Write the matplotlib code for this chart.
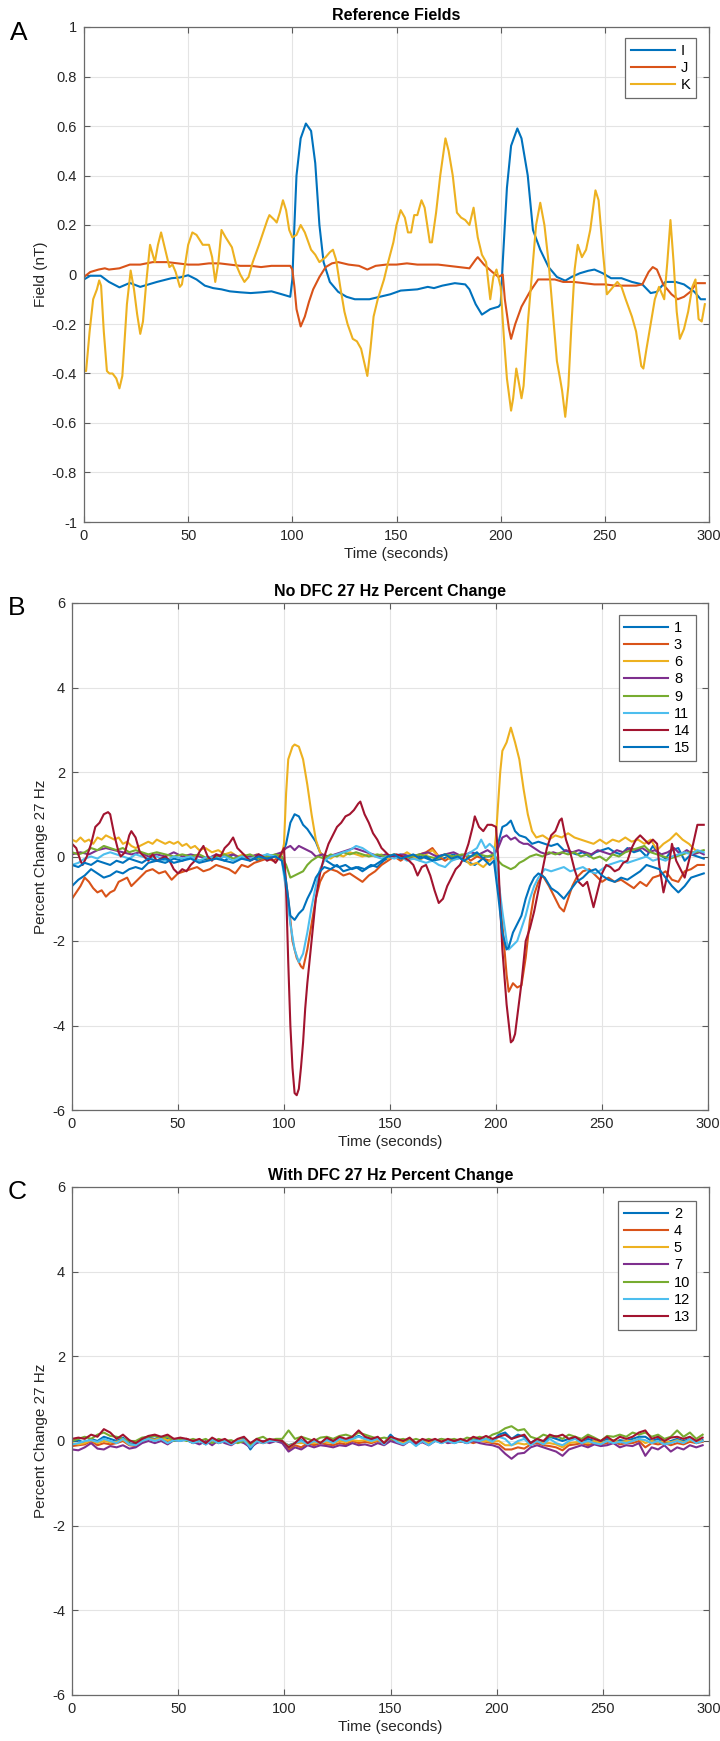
import matplotlib
matplotlib.use('Agg')
import matplotlib.pyplot as plt

plt.rcParams['font.family'] = ['Liberation Sans', 'DejaVu Sans']
plt.rcParams['axes.unicode_minus'] = False

# ---------------- Panel A: Reference Fields ----------------
A_I = [(0,-0.02),(3,-0.005),(8,-0.005),(12,-0.03),(17,-0.052),(22,-0.034),(27,-0.05),(31,-0.04),(35,-0.03),(42,-0.015),(46,-0.012),(50,-0.003),(54,-0.02),(58,-0.045),(62,-0.055),(66,-0.06),(70,-0.068),(75,-0.072),(80,-0.075),(85,-0.072),(90,-0.068),(95,-0.08),(99,-0.09),(100,-0.02),(101,0.2),(102,0.4),(104,0.55),(106.5,0.61),(109,0.58),(111,0.45),(113,0.2),(115,0.05),(118,-0.03),(122,-0.07),(126,-0.09),(130,-0.1),(137,-0.1),(142,-0.09),(147,-0.08),(152,-0.065),(160,-0.06),(165,-0.05),(168,-0.055),(172,-0.045),(178,-0.035),(183,-0.04),(185,-0.06),(188,-0.12),(191,-0.162),(195,-0.14),(199,-0.13),(200,-0.12),(201,0.05),(203,0.35),(205,0.52),(208,0.59),(210,0.55),(213,0.4),(215.5,0.18),(219,0.1),(223,0.03),(227,-0.01),(231,-0.025),(234,-0.01),(238,0.005),(242,0.015),(245,0.02),(249,0.005),(253,-0.015),(258,-0.015),(263,-0.03),(268,-0.04),(272,-0.075),(275,-0.07),(279,-0.03),(284,-0.03),(288,-0.04),(293,-0.07),(296,-0.1),(298,-0.1)]

A_J = [(0,-0.01),(3,0.01),(7,0.02),(10,0.025),(12,0.02),(17,0.025),(22,0.04),(27,0.04),(33,0.05),(40,0.05),(45,0.045),(50,0.04),(55,0.04),(60,0.045),(65,0.045),(70,0.04),(75,0.035),(80,0.035),(85,0.03),(90,0.035),(95,0.035),(99,0.035),(100,0.02),(101,-0.05),(102,-0.14),(104,-0.21),(106,-0.17),(108,-0.11),(110,-0.06),(113,-0.01),(116,0.03),(119,0.045),(122,0.05),(127,0.04),(132,0.035),(136,0.02),(140,0.035),(145,0.04),(150,0.04),(155,0.045),(160,0.04),(165,0.04),(170,0.04),(175,0.035),(180,0.03),(185,0.025),(188,0.06),(189,0.07),(192,0.04),(196,0.01),(199,-0.01),(201,0.0),(202,-0.1),(204,-0.22),(205,-0.26),(207,-0.2),(210,-0.13),(214,-0.07),(218,-0.02),(222,-0.02),(226,-0.02),(230,-0.03),(235,-0.03),(240,-0.035),(245,-0.04),(250,-0.04),(255,-0.045),(260,-0.045),(265,-0.045),(268,-0.04),(271,0.01),(273,0.03),(275,0.02),(278,-0.04),(282,-0.08),(285,-0.1),(288,-0.09),(291,-0.07),(294,-0.035),(298,-0.035)]

A_K = [(0,-0.39),(1,-0.39),(2.7,-0.23),(4.4,-0.1),(6.2,-0.06),(7.3,-0.024),(8.2,-0.045),(9.5,-0.23),(11,-0.39),(12.2,-0.40),(13.7,-0.40),(15.5,-0.42),(17,-0.46),(18.4,-0.41),(20.6,-0.12),(22.4,0.016),(24,-0.06),(25.5,-0.16),(27,-0.24),(28.3,-0.19),(29.9,-0.03),(31.7,0.12),(33,0.08),(34,0.05),(35.5,0.12),(37,0.17),(39,0.1),(41,0.03),(42.5,0.04),(44,0.01),(46,-0.05),(47,-0.04),(50,0.12),(52,0.17),(54,0.16),(57,0.12),(60,0.12),(61.5,0.07),(63,-0.03),(64.5,0.05),(66,0.18),(68,0.15),(69.5,0.13),(71,0.11),(73,0.04),(75,0.0),(77,-0.03),(79,-0.01),(81,0.05),(84,0.12),(86,0.17),(88,0.22),(89,0.24),(91.5,0.22),(92.5,0.21),(94,0.25),(95.5,0.3),(97,0.26),(98.5,0.18),(100,0.15),(102,0.16),(104,0.2),(106,0.17),(109,0.1),(111,0.08),(113,0.05),(116,0.07),(118,0.09),(119.5,0.1),(121,0.06),(123,-0.05),(125,-0.15),(126.5,-0.2),(129,-0.26),(131,-0.27),(133,-0.3),(136,-0.41),(137.5,-0.3),(139,-0.17),(141,-0.1),(144,-0.02),(146,0.05),(148.5,0.13),(150,0.2),(152,0.26),(154,0.23),(155.5,0.17),(157,0.17),(158.5,0.24),(160,0.24),(162,0.3),(163.5,0.27),(166,0.13),(167,0.13),(169,0.25),(171,0.4),(173.5,0.55),(175,0.5),(177,0.4),(179,0.25),(181,0.23),(183,0.22),(185,0.2),(187,0.27),(189,0.15),(191,0.08),(193,0.05),(195,-0.1),(196.5,-0.01),(198,0.02),(200,-0.05),(201.5,-0.25),(203,-0.42),(205,-0.55),(206,-0.5),(207.5,-0.38),(209,-0.45),(210,-0.5),(211,-0.45),(213,-0.2),(215,0.0),(217,0.2),(219,0.29),(221,0.2),(223,0.05),(225,-0.15),(227,-0.35),(228.5,-0.42),(229.5,-0.47),(231,-0.575),(232.5,-0.45),(234,-0.2),(235.5,0.02),(237,0.12),(239,0.07),(241,0.1),(243,0.18),(245.5,0.34),(247,0.3),(249,0.1),(251,-0.08),(253,-0.06),(256,-0.03),(258,-0.05),(260,-0.1),(263,-0.17),(265,-0.23),(267.5,-0.37),(268.5,-0.38),(270,-0.3),(272,-0.2),(274,-0.1),(276,-0.05),(277,-0.07),(278.5,-0.1),(280,0.05),(281.5,0.22),(283,0.05),(284.5,-0.15),(286,-0.26),(288,-0.22),(290,-0.15),(292,-0.05),(293.5,-0.02),(295,-0.18),(296.5,-0.19),(298,-0.12)]

A_names = ['I', 'J', 'K']

# ---------------- Panel B: No DFC ----------------
B1 = [(0,-0.7),(3,-0.55),(6,-0.45),(9,-0.3),(12,-0.4),(15,-0.5),(18,-0.45),(21,-0.35),(24,-0.4),(27,-0.3),(30,-0.25),(33,-0.3),(36,-0.15),(40,-0.1),(44,-0.15),(48,-0.05),(52,-0.1),(56,0.0),(60,-0.1),(64,-0.05),(68,0.0),(72,-0.1),(76,0.05),(80,-0.05),(84,0.0),(88,-0.1),(92,0.05),(96,0.0),(99,0.05),(101,0.3),(103,0.8),(105,1.0),(107,0.95),(109,0.75),(111,0.65),(113,0.5),(115,0.35),(117,0.1),(120,-0.1),(123,-0.2),(126,-0.25),(129,-0.2),(132,-0.3),(135,-0.25),(138,-0.3),(141,-0.2),(144,-0.25),(147,-0.1),(150,0.0),(155,0.05),(160,-0.05),(165,0.0),(170,-0.1),(175,-0.05),(180,0.05),(185,-0.1),(190,-0.2),(195,0.0),(199,0.0),(201,0.3),(203,0.7),(205,0.75),(207,0.85),(209,0.6),(211,0.5),(214,0.45),(217,0.3),(220,0.35),(223,0.3),(226,0.25),(229,0.3),(232,0.15),(235,0.1),(238,0.05),(241,0.1),(244,0.0),(247,0.1),(250,0.15),(253,0.2),(256,0.1),(259,0.05),(262,0.2),(265,0.1),(268,0.15),(271,0.0),(274,0.25),(277,0.05),(280,-0.05),(283,0.15),(286,0.2),(289,-0.1),(292,0.05),(295,0.0),(298,-0.05)]

B3 = [(0,-1.0),(2,-0.85),(4,-0.7),(6,-0.5),(8,-0.6),(10,-0.75),(12,-0.85),(14,-0.8),(16,-0.95),(18,-0.85),(20,-0.8),(22,-0.6),(24,-0.55),(26,-0.5),(28,-0.7),(30,-0.6),(32,-0.5),(35,-0.35),(38,-0.3),(41,-0.4),(44,-0.35),(47,-0.55),(50,-0.4),(53,-0.35),(56,-0.3),(59,-0.25),(62,-0.35),(65,-0.3),(68,-0.2),(71,-0.25),(74,-0.3),(77,-0.4),(80,-0.2),(83,-0.25),(86,-0.15),(89,-0.1),(92,-0.05),(95,-0.1),(98,0.0),(100,-0.2),(102,-1.0),(104,-2.0),(106,-2.4),(108,-2.6),(109,-2.65),(111,-2.2),(113,-1.6),(115,-1.0),(117,-0.6),(119,-0.4),(122,-0.3),(125,-0.35),(128,-0.45),(131,-0.4),(134,-0.5),(137,-0.6),(140,-0.45),(143,-0.35),(146,-0.2),(149,-0.1),(152,0.0),(155,-0.1),(158,0.0),(161,-0.05),(164,0.05),(167,0.1),(170,0.2),(173,0.0),(176,-0.1),(179,0.0),(182,-0.05),(185,0.05),(188,-0.1),(191,0.0),(194,-0.05),(197,-0.1),(199,0.0),(201,-0.5),(203,-1.6),(205,-2.8),(206,-3.2),(208,-3.0),(210,-3.1),(212,-3.05),(214,-2.4),(216,-1.5),(218,-0.9),(220,-0.6),(222,-0.45),(225,-0.7),(228,-1.0),(230,-1.2),(232,-1.3),(234,-1.0),(236,-0.7),(238,-0.5),(241,-0.35),(244,-0.3),(247,-0.45),(250,-0.6),(253,-0.5),(256,-0.6),(259,-0.55),(262,-0.65),(265,-0.75),(268,-0.6),(271,-0.7),(274,-0.5),(277,-0.45),(280,-0.35),(283,-0.55),(286,-0.6),(289,-0.35),(292,-0.3),(295,-0.2),(298,-0.2)]

B6 = [(0,0.4),(2,0.35),(4,0.45),(6,0.35),(8,0.4),(10,0.3),(12,0.45),(14,0.4),(16,0.5),(18,0.45),(20,0.4),(22,0.45),(24,0.3),(26,0.35),(28,0.25),(30,0.2),(32,0.25),(34,0.3),(36,0.35),(38,0.3),(40,0.4),(42,0.35),(44,0.3),(46,0.35),(48,0.3),(50,0.35),(52,0.25),(54,0.3),(56,0.2),(58,0.25),(60,0.15),(63,0.2),(66,0.1),(69,0.15),(72,0.05),(75,0.1),(78,0.0),(81,0.05),(84,-0.05),(87,0.05),(90,0.0),(93,-0.05),(96,0.0),(99,0.05),(100,0.3),(101,1.5),(102,2.3),(104,2.6),(105,2.65),(107,2.6),(109,2.3),(111,1.7),(113,1.0),(115,0.4),(117,0.1),(119,0.0),(122,-0.05),(125,0.05),(128,0.0),(131,0.1),(134,0.05),(137,0.0),(140,0.05),(143,0.0),(146,0.05),(149,-0.05),(152,0.05),(155,0.0),(158,0.1),(161,0.0),(164,-0.1),(167,0.05),(170,0.15),(173,0.0),(176,0.05),(179,-0.1),(182,0.0),(185,-0.05),(188,-0.2),(191,-0.15),(194,-0.25),(197,-0.1),(199,0.0),(200,0.5),(202,2.0),(203,2.5),(205,2.7),(207,3.05),(209,2.7),(211,2.3),(213,1.6),(215,1.0),(217,0.6),(219,0.45),(222,0.5),(225,0.4),(228,0.5),(231,0.45),(234,0.55),(237,0.45),(240,0.4),(243,0.35),(246,0.3),(249,0.4),(252,0.3),(255,0.4),(258,0.35),(261,0.45),(264,0.35),(267,0.4),(270,0.3),(273,0.4),(276,0.15),(279,0.3),(282,0.4),(285,0.55),(288,0.4),(291,0.3),(294,0.15),(297,0.1)]

B8 = [(0,0.05),(4,0.1),(8,0.05),(12,0.15),(16,0.2),(20,0.15),(24,0.1),(28,0.05),(32,0.1),(36,0.0),(40,0.05),(44,0.0),(48,0.1),(52,0.0),(56,0.05),(60,0.0),(64,-0.05),(68,0.05),(72,0.0),(76,0.05),(80,-0.05),(84,0.0),(88,0.05),(92,-0.05),(96,0.05),(99,0.1),(101,0.2),(103,0.25),(105,0.15),(107,0.25),(109,0.2),(111,0.15),(113,0.1),(115,0.0),(118,0.05),(121,0.0),(124,0.05),(127,0.1),(130,0.15),(133,0.2),(136,0.15),(139,0.1),(142,0.05),(145,0.0),(148,0.05),(152,0.0),(156,0.05),(160,0.0),(164,0.05),(168,0.1),(172,0.0),(176,0.05),(180,0.1),(184,0.0),(188,0.1),(192,0.05),(196,0.15),(199,0.05),(201,0.2),(203,0.45),(205,0.5),(207,0.4),(209,0.45),(211,0.35),(213,0.3),(215,0.3),(218,0.2),(221,0.1),(224,0.05),(227,0.1),(230,0.05),(233,0.15),(236,0.1),(239,0.15),(242,0.1),(245,0.05),(248,0.15),(251,0.1),(254,0.05),(257,0.15),(260,0.1),(263,0.2),(266,0.15),(269,0.2),(272,0.1),(275,0.15),(278,0.05),(281,0.1),(284,0.2),(287,0.05),(290,0.15),(293,0.05),(296,0.1),(298,0.05)]

B9 = [(0,0.1),(3,0.05),(6,0.1),(9,0.2),(12,0.15),(15,0.25),(18,0.2),(21,0.15),(24,0.2),(27,0.1),(30,0.15),(33,0.1),(36,0.05),(40,0.1),(44,0.05),(48,0.0),(52,0.05),(56,0.0),(60,0.05),(64,-0.05),(68,0.0),(72,0.05),(76,-0.05),(80,0.0),(84,0.05),(88,-0.05),(92,0.0),(96,0.05),(99,0.0),(101,-0.2),(103,-0.5),(105,-0.45),(107,-0.4),(109,-0.35),(111,-0.2),(113,-0.1),(116,0.0),(119,-0.05),(122,0.05),(125,0.0),(128,0.1),(131,0.05),(134,0.1),(137,0.05),(140,0.0),(144,0.05),(148,0.0),(152,0.05),(156,-0.05),(160,0.0),(164,0.05),(168,0.0),(172,-0.05),(176,0.05),(180,0.0),(184,0.05),(188,0.0),(192,0.05),(196,0.0),(199,0.05),(201,-0.1),(203,-0.2),(205,-0.25),(207,-0.3),(209,-0.25),(211,-0.15),(213,-0.1),(216,0.0),(219,0.05),(222,0.0),(225,0.1),(228,0.05),(231,0.1),(234,0.05),(237,0.1),(240,0.0),(243,0.05),(246,-0.05),(249,0.0),(252,-0.1),(255,0.05),(258,0.0),(261,0.1),(264,0.15),(267,0.2),(270,0.25),(273,0.1),(276,0.05),(279,0.0),(282,-0.05),(285,0.0),(288,0.05),(291,0.1),(294,0.1),(298,0.15)]

B11 = [(0,-0.2),(3,-0.15),(6,-0.05),(9,0.0),(12,-0.05),(15,0.05),(18,0.1),(21,0.05),(24,0.0),(27,-0.05),(30,0.05),(33,0.0),(36,-0.05),(40,0.0),(44,-0.1),(48,0.0),(52,-0.05),(56,0.0),(60,-0.1),(64,0.0),(68,-0.05),(72,0.0),(76,-0.1),(80,0.0),(84,-0.05),(88,0.0),(92,0.05),(96,0.0),(99,-0.1),(101,-0.8),(103,-1.6),(105,-2.2),(107,-2.5),(109,-2.3),(111,-1.8),(113,-1.2),(115,-0.7),(117,-0.3),(119,-0.1),(122,0.0),(125,0.05),(128,0.1),(131,0.15),(134,0.25),(137,0.2),(140,0.1),(143,0.0),(146,-0.05),(149,0.0),(152,-0.05),(155,0.0),(158,-0.1),(161,-0.05),(164,-0.1),(167,-0.15),(170,-0.1),(173,-0.2),(176,-0.25),(179,-0.1),(182,-0.05),(185,0.0),(188,0.1),(191,0.2),(193,0.4),(195,0.2),(197,0.3),(199,0.2),(201,-0.5),(203,-1.3),(205,-2.0),(206,-2.2),(208,-2.1),(210,-2.0),(212,-1.7),(214,-1.4),(216,-1.0),(218,-0.7),(220,-0.5),(223,-0.3),(226,-0.35),(229,-0.3),(232,-0.25),(235,-0.35),(238,-0.3),(241,-0.25),(244,-0.35),(247,-0.4),(250,-0.3),(253,-0.2),(256,-0.15),(259,-0.1),(262,-0.15),(265,-0.1),(268,-0.05),(271,0.0),(274,-0.1),(277,-0.05),(280,-0.1),(283,0.0),(286,0.05),(289,0.1),(292,0.05),(295,0.15),(298,0.1)]

B14 = [(0,0.3),(2,0.2),(4,-0.1),(5,-0.2),(7,0.0),(9,0.3),(11,0.7),(13,0.8),(15,1.0),(17,1.05),(18,1.0),(20,0.5),(22,0.1),(23,0.0),(25,0.1),(27,0.5),(28,0.6),(30,0.45),(32,0.1),(34,0.0),(36,-0.1),(38,0.05),(40,-0.1),(42,-0.05),(44,0.0),(46,-0.1),(48,-0.3),(50,-0.4),(52,-0.3),(54,-0.35),(56,-0.2),(58,-0.1),(60,0.1),(62,0.25),(64,0.0),(66,-0.1),(68,0.05),(70,0.0),(72,0.2),(74,0.3),(76,0.45),(78,0.2),(80,0.1),(82,0.0),(84,-0.1),(86,-0.05),(88,0.05),(90,0.0),(92,-0.1),(94,-0.05),(96,-0.15),(98,0.0),(100,0.2),(101,-0.8),(102,-2.5),(103,-4.0),(104,-5.0),(105,-5.6),(106,-5.65),(107,-5.5),(108,-5.0),(109,-4.4),(110,-3.6),(111,-3.0),(113,-2.0),(115,-1.0),(117,-0.4),(119,0.0),(121,0.3),(123,0.5),(125,0.7),(127,0.8),(129,0.95),(131,1.0),(133,1.1),(135,1.25),(136,1.3),(138,1.0),(140,0.8),(142,0.55),(144,0.4),(146,0.2),(148,0.1),(150,0.0),(153,0.05),(156,0.0),(159,-0.1),(161,-0.2),(163,-0.45),(165,-0.25),(167,-0.2),(169,-0.45),(171,-0.8),(173,-1.1),(175,-1.0),(177,-0.7),(179,-0.5),(181,-0.3),(183,-0.2),(185,0.0),(187,0.3),(189,0.7),(190,0.95),(192,0.7),(194,0.6),(196,0.75),(198,0.75),(200,0.7),(201,0.0),(202,-1.2),(203,-2.2),(205,-3.5),(207,-4.4),(208,-4.35),(209,-4.2),(210,-3.8),(212,-3.0),(214,-2.0),(216,-1.7),(218,-1.3),(220,-0.8),(222,-0.3),(224,0.2),(226,0.5),(228,0.6),(230,0.85),(231,0.9),(233,0.4),(235,0.1),(237,-0.3),(239,-0.6),(241,-0.7),(243,-0.6),(245,-1.0),(246,-1.2),(248,-0.8),(250,-0.4),(252,-0.2),(254,-0.25),(256,-0.35),(258,-0.3),(260,-0.15),(262,-0.1),(264,0.2),(266,0.4),(268,0.5),(270,0.4),(272,0.3),(274,0.4),(276,0.3),(277,-0.2),(279,-0.85),(281,-0.4),(283,0.3),(285,-0.1),(287,-0.3),(289,-0.5),(291,-0.1),(293,0.3),(295,0.75),(298,0.75)]

B15 = [(0,-0.2),(3,-0.25),(6,-0.15),(9,-0.2),(12,-0.1),(15,-0.15),(18,-0.2),(21,-0.1),(24,-0.15),(27,-0.05),(30,-0.1),(33,-0.15),(36,-0.05),(40,-0.1),(44,-0.05),(48,-0.15),(52,-0.1),(56,-0.05),(60,-0.15),(64,-0.1),(68,-0.05),(72,-0.1),(76,-0.15),(80,-0.05),(84,-0.1),(88,0.0),(92,-0.05),(96,0.0),(99,-0.1),(101,-0.6),(103,-1.4),(105,-1.5),(107,-1.35),(109,-1.25),(111,-1.0),(113,-0.8),(115,-0.5),(117,-0.35),(119,-0.25),(122,-0.3),(125,-0.2),(128,-0.35),(131,-0.3),(134,-0.25),(137,-0.35),(140,-0.25),(143,-0.2),(146,-0.1),(149,0.0),(152,0.05),(155,-0.05),(158,0.0),(161,0.05),(164,-0.05),(167,0.0),(170,-0.1),(173,0.0),(176,0.05),(179,-0.05),(182,0.0),(185,-0.1),(188,0.0),(191,0.1),(194,-0.05),(197,-0.2),(199,-0.1),(201,-0.9),(203,-1.8),(205,-2.2),(206,-2.15),(208,-1.8),(210,-1.6),(212,-1.4),(214,-1.0),(216,-0.7),(218,-0.5),(220,-0.4),(223,-0.5),(226,-0.75),(229,-0.85),(232,-1.0),(235,-0.8),(238,-0.6),(241,-0.5),(244,-0.35),(247,-0.3),(250,-0.45),(253,-0.55),(256,-0.6),(259,-0.5),(262,-0.55),(265,-0.45),(268,-0.35),(271,-0.2),(274,-0.25),(277,-0.3),(280,-0.5),(283,-0.7),(286,-0.85),(289,-0.7),(292,-0.5),(295,-0.45),(298,-0.4)]

B_names = ['1', '3', '6', '8', '9', '11', '14', '15']

# ---------------- Panel C: With DFC ----------------
C_t = [0,3,6,9,12,15,18,21,24,27,30,33,36,39,42,45,48,51,54,57,60,63,66,69,72,75,78,81,84,87,90,93,96,99,102,105,108,111,114,117,120,123,126,129,132,135,138,141,144,147,150,153,156,159,162,165,168,171,174,177,180,183,186,189,192,195,198,201,204,207,210,213,216,219,222,225,228,231,234,237,240,243,246,249,252,255,258,261,264,267,270,273,276,279,282,285,288,291,294,297]

C2 = [0.0,0.02,-0.05,0.05,0.0,0.1,0.05,0.0,0.08,-0.05,
      -0.08,0.02,0.08,0.05,0.1,0.05,0.0,0.05,0.02,-0.05,
      0.0,-0.08,0.05,-0.05,0.0,-0.08,0.02,0.05,-0.2,0.0,
      -0.05,0.02,0.0,-0.02,-0.1,-0.05,0.02,-0.08,0.0,-0.05,
      0.05,-0.02,0.05,0.0,0.05,0.12,0.05,0.02,0.05,-0.05,
      0.15,0.0,-0.05,0.05,-0.1,0.0,-0.08,0.02,-0.05,0.02,
      -0.05,0.0,-0.05,0.05,0.0,0.05,0.0,0.15,0.2,0.05,
      0.15,0.1,-0.05,0.05,-0.05,0.1,0.05,0.0,0.05,0.08,
      -0.05,0.05,0.0,-0.05,0.05,-0.05,0.02,0.0,0.05,0.1,
      0.1,0.0,0.05,-0.05,0.0,0.05,0.0,0.05,-0.05,0.02]
C4 = [-0.12,-0.1,-0.08,0.0,-0.1,-0.05,-0.08,-0.05,0.0,-0.1,
      -0.12,-0.02,0.05,0.02,0.05,0.0,0.05,0.02,0.05,-0.05,
      0.0,-0.05,0.02,-0.05,0.0,-0.05,0.02,0.0,-0.1,0.0,
      -0.05,0.0,0.02,0.0,-0.2,-0.1,-0.15,-0.05,-0.1,-0.05,
      -0.08,-0.1,-0.05,-0.08,0.0,-0.05,-0.02,-0.05,0.0,-0.05,
      0.05,-0.02,-0.05,0.0,-0.05,0.0,-0.05,0.0,0.02,-0.05,
      0.0,-0.02,0.0,-0.05,0.0,-0.02,-0.05,-0.08,-0.2,-0.2,
      -0.15,-0.18,-0.08,-0.05,-0.1,-0.12,-0.15,-0.22,-0.1,-0.08,
      -0.05,-0.1,-0.05,-0.08,-0.05,0.0,-0.08,-0.05,-0.05,0.0,
      -0.15,-0.05,-0.08,-0.05,-0.1,-0.05,-0.08,-0.02,-0.05,-0.02]
C5 = [-0.05,-0.08,-0.05,0.02,-0.05,0.0,-0.03,-0.02,0.03,-0.08,
      -0.1,0.0,0.05,0.03,0.08,0.02,0.05,0.03,0.05,-0.03,
      0.0,-0.05,0.03,-0.03,0.0,-0.05,0.02,0.03,-0.12,0.02,
      -0.03,0.0,0.02,0.0,-0.12,-0.05,-0.05,-0.05,-0.05,-0.02,
      -0.03,-0.05,0.0,-0.03,0.02,0.0,0.02,-0.02,0.02,-0.03,
      0.08,0.0,-0.03,0.02,-0.05,0.0,-0.05,0.0,0.0,-0.02,
      0.0,0.0,0.0,0.0,0.0,0.0,-0.02,0.0,-0.1,-0.1,
      -0.05,-0.08,-0.05,0.0,-0.05,-0.05,-0.08,-0.15,-0.05,-0.03,
      -0.02,-0.05,0.0,-0.05,0.0,0.02,-0.03,0.0,0.0,0.05,
      -0.05,0.0,-0.03,0.0,-0.03,0.02,-0.03,0.02,0.0,0.0]
C7 = [-0.2,-0.22,-0.15,-0.05,-0.18,-0.2,-0.12,-0.15,-0.1,-0.18,
      -0.15,-0.05,0.0,-0.05,0.0,-0.08,0.02,0.0,0.05,-0.02,
      -0.08,0.0,-0.1,0.02,-0.05,-0.1,0.0,-0.05,-0.15,-0.05,
      0.0,-0.05,0.0,-0.05,-0.25,-0.15,-0.2,-0.1,-0.15,-0.1,
      -0.12,-0.15,-0.1,-0.12,-0.05,-0.1,-0.08,-0.12,-0.05,-0.1,
      0.0,-0.05,-0.1,0.0,-0.08,-0.03,-0.1,0.0,0.05,-0.05,
      -0.02,0.0,-0.05,0.0,-0.05,-0.08,-0.1,-0.15,-0.3,-0.42,
      -0.3,-0.28,-0.15,-0.1,-0.15,-0.2,-0.25,-0.35,-0.2,-0.15,
      -0.1,-0.15,-0.08,-0.12,-0.1,-0.05,-0.15,-0.1,-0.12,-0.05,
      -0.35,-0.15,-0.2,-0.1,-0.25,-0.15,-0.2,-0.1,-0.15,-0.1]
C10 = [0.0,0.05,0.1,0.05,0.15,0.2,0.12,0.1,0.05,0.0,
       0.0,0.08,0.1,0.12,0.08,0.1,0.0,0.05,0.0,0.05,
       0.0,0.05,-0.05,0.05,0.0,0.02,-0.05,0.0,-0.1,0.05,
       0.1,0.0,0.05,0.05,0.25,0.05,0.1,0.05,0.0,0.08,
       0.1,0.05,0.12,0.15,0.1,0.2,0.15,0.1,0.05,0.08,
       0.05,0.02,0.05,0.0,0.05,0.0,0.05,0.0,0.05,0.02,
       0.05,0.0,0.08,0.05,0.1,0.05,0.15,0.2,0.3,0.35,
       0.25,0.28,0.1,0.05,0.15,0.1,0.12,0.05,0.15,0.1,
       0.05,0.15,0.08,0.0,0.12,0.1,0.15,0.1,0.2,0.15,
       0.2,0.1,0.15,0.05,0.1,0.25,0.1,0.2,0.05,0.15]
C12 = [-0.08,-0.05,0.0,0.02,-0.02,0.05,0.0,-0.05,0.05,-0.08,
       -0.1,0.0,0.05,0.0,0.05,-0.05,0.02,0.0,0.03,-0.05,
       0.0,-0.08,0.03,-0.05,0.0,-0.08,0.0,0.02,-0.15,0.0,
       -0.05,0.0,0.0,0.0,-0.15,-0.05,0.0,-0.08,0.0,-0.05,
       0.02,-0.05,0.05,0.0,0.05,0.1,0.05,0.0,0.05,-0.08,
       0.1,-0.02,-0.08,0.0,-0.12,0.0,-0.1,0.0,-0.05,0.0,
       -0.05,0.0,-0.05,0.02,0.0,0.05,-0.02,0.1,0.05,-0.1,
       0.0,0.05,-0.1,0.0,-0.08,0.05,-0.05,-0.1,0.0,0.05,
       -0.05,0.0,-0.05,-0.08,0.0,-0.05,-0.02,-0.05,0.0,0.05,
       0.02,-0.05,0.0,-0.08,-0.05,0.0,-0.05,0.05,-0.05,0.0]
C13 = [0.05,0.08,0.05,0.15,0.1,0.28,0.2,0.05,0.15,0.02,
       -0.05,0.05,0.12,0.15,0.1,0.15,0.05,0.08,0.05,0.0,
       0.05,-0.05,0.08,0.0,0.05,-0.05,0.05,0.1,-0.05,0.05,
       -0.02,0.05,0.02,0.0,-0.15,-0.05,0.1,-0.05,0.05,-0.05,
       0.08,0.0,0.1,0.05,0.1,0.25,0.1,0.05,0.1,-0.05,
       0.1,0.05,0.0,0.08,-0.05,0.05,0.0,0.05,-0.02,0.05,
       0.0,0.05,0.0,0.1,0.05,0.12,0.05,0.1,0.15,0.05,
       0.1,0.15,-0.05,0.05,0.0,0.15,0.1,0.15,0.05,0.1,
       0.0,0.1,0.05,0.0,0.1,0.0,0.1,0.05,0.1,0.2,
       0.25,0.05,0.1,0.0,0.08,0.1,0.05,0.1,0.0,0.08]
C_names = ['2', '4', '5', '7', '10', '12', '13']

# MATLAB default colour order
COLORS = ['#0072BD', '#D95319', '#EDB120', '#7E2F8E', '#77AC30', '#4DBEEE', '#A2142F']

W, H = 720, 1741
fig = plt.figure(figsize=(W / 100, H / 100), dpi=100)


def ax_at(l, t, r, b):
    return fig.add_axes([l / W, 1 - b / H, (r - l) / W, (b - t) / H])


def fmt(v):
    return '%g' % v


def style(ax, ylim, yticks, title, ylabel):
    ax.set_xlim(0, 300)
    ax.set_ylim(*ylim)
    xt = [0, 50, 100, 150, 200, 250, 300]
    ax.set_xticks(xt)
    ax.set_xticklabels([fmt(v) for v in xt])
    ax.set_yticks(yticks)
    ax.set_yticklabels([fmt(round(v, 2)) for v in yticks])
    ax.grid(True, color='#e4e4e4', lw=0.8)
    ax.set_axisbelow(True)
    ax.tick_params(direction='in', top=True, right=True, length=4, width=0.8,
                   color='#5a5a5a', labelsize=10.5, labelcolor='#262626', pad=5)
    for sp in ax.spines.values():
        sp.set_color('#6a6a6a')
        sp.set_linewidth(0.9)
    ax.set_title(title, fontsize=11.5, fontweight='bold', color='#000000', pad=5)
    ax.set_xlabel('Time (seconds)', fontsize=11, color='#262626', labelpad=3)
    ax.set_ylabel(ylabel, fontsize=11, color='#262626', labelpad=3)


def legend(ax, x, y):
    lg = ax.legend(loc='upper right', bbox_to_anchor=(x, y), fontsize=10.5,
                   handlelength=3.0, handletextpad=0.4, labelspacing=0.22,
                   borderpad=0.4, borderaxespad=0, fancybox=False,
                   framealpha=1, edgecolor='#6a6a6a')
    lg.get_frame().set_linewidth(0.9)
    for t in lg.get_texts():
        t.set_color('#000000')


LW = 1.5

# Panel A
axA = ax_at(84, 27, 709, 522)
for i, (series, name) in enumerate(zip([A_I, A_J, A_K], A_names)):
    t, v = zip(*series)
    axA.plot(t, v, color=COLORS[i], lw=LW, label=name)
style(axA, (-1, 1), [-1, -0.8, -0.6, -0.4, -0.2, 0, 0.2, 0.4, 0.6, 0.8, 1],
      'Reference Fields', 'Field (nT)')
legend(axA, (696 - 84) / 625, 1 - (38 - 27) / 495)

# Panel B
axB = ax_at(72, 603, 708, 1110)
for i, (series, name) in enumerate(zip([B1, B3, B6, B8, B9, B11, B14, B15], B_names)):
    t, v = zip(*series)
    axB.plot(t, v, color=COLORS[i % 7], lw=LW, label=name)
style(axB, (-6, 6), [-6, -4, -2, 0, 2, 4, 6],
      'No DFC 27 Hz Percent Change', 'Percent Change 27 Hz')
legend(axB, (696 - 72) / 636, 1 - (615 - 603) / 507)

# Panel C
axC = ax_at(72, 1187, 709, 1695)
for i, (series, name) in enumerate(zip([C2, C4, C5, C7, C10, C12, C13], C_names)):
    axC.plot(C_t, series, color=COLORS[i], lw=LW, label=name)
style(axC, (-6, 6), [-6, -4, -2, 0, 2, 4, 6],
      'With DFC 27 Hz Percent Change', 'Percent Change 27 Hz')
legend(axC, (696 - 72) / 637, 1 - (1201 - 1187) / 508)

# Panel letters
for letter, (x, y) in zip(['A', 'B', 'C'], [(19, 33), (17, 608), (17, 1192)]):
    fig.text(x / W, 1 - y / H, letter, fontsize=19, ha='center', va='center', color='#000000')

fig.savefig('out.png', dpi=100)
